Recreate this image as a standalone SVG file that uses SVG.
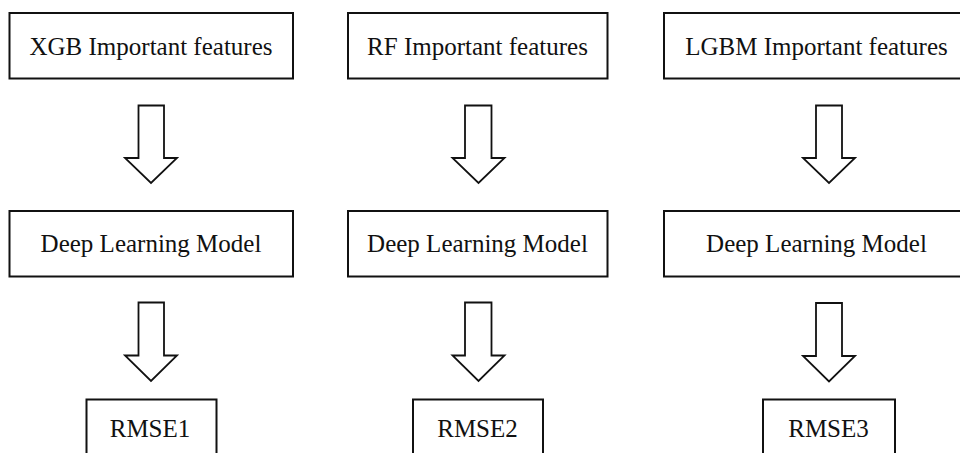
<svg xmlns="http://www.w3.org/2000/svg" width="960" height="453" viewBox="0 0 960 453">
<style>
.box{fill:#fff;stroke:#111;stroke-width:2}
.arr{fill:#fff;stroke:#111;stroke-width:1.8;stroke-linejoin:miter}
.t{font-size:25px;fill:#111;text-anchor:middle}
</style>
<rect width="960" height="453" fill="#fff"/>
<g id="connectors">
<polygon class="arr" points="138.5,105.5 164,105.5 164,158 177,158 151,183 125,158 138.5,158"/>
<polygon class="arr" points="465,105.5 491.5,105.5 491.5,158 504.5,158 478.5,183 452.5,158 465,158"/>
<polygon class="arr" points="816,105.5 842,105.5 842,158 855,158 829,183 803,158 816,158"/>
<polygon class="arr" points="138.5,302.5 164,302.5 164,355.5 177,355.5 151,381 125,355.5 138.5,355.5"/>
<polygon class="arr" points="465,302.5 491.5,302.5 491.5,355.5 504.5,355.5 478.5,381 452.5,355.5 465,355.5"/>
<polygon class="arr" points="816,303 842,303 842,356 855,356 829,381.5 803,356 816,356"/>
</g>
<g font-family="Liberation Serif, Times New Roman, DejaVu Serif, serif">
<g id="xgb">
<rect class="box" x="9.5" y="13" width="283.5" height="65.5"/>
<text class="t" x="151" y="55">XGB Important features</text>
</g>
<g id="rf">
<rect class="box" x="348" y="13" width="259.5" height="65.5"/>
<text class="t" x="477.5" y="55">RF Important features</text>
</g>
<g id="lgbm">
<rect class="box" x="664" y="13" width="306" height="65.5"/>
<text class="t" x="816.5" y="55">LGBM Important features</text>
</g>
<g id="dl1">
<rect class="box" x="9.5" y="211" width="283.5" height="65.5"/>
<text class="t" x="151" y="252">Deep Learning Model</text>
</g>
<g id="dl2">
<rect class="box" x="348" y="211" width="259.5" height="65.5"/>
<text class="t" x="477.5" y="252">Deep Learning Model</text>
</g>
<g id="dl3">
<rect class="box" x="664" y="211" width="306" height="65.5"/>
<text class="t" x="816.5" y="252">Deep Learning Model</text>
</g>
<g id="rmse1">
<rect class="box" x="86.5" y="399.5" width="130" height="70"/>
<text class="t" x="150" y="437">RMSE1</text>
</g>
<g id="rmse2">
<rect class="box" x="413" y="399.5" width="130" height="70"/>
<text class="t" x="477.5" y="437">RMSE2</text>
</g>
<g id="rmse3">
<rect class="box" x="763" y="399.5" width="132" height="70"/>
<text class="t" x="828.5" y="437">RMSE3</text>
</g>
</g>
</svg>
